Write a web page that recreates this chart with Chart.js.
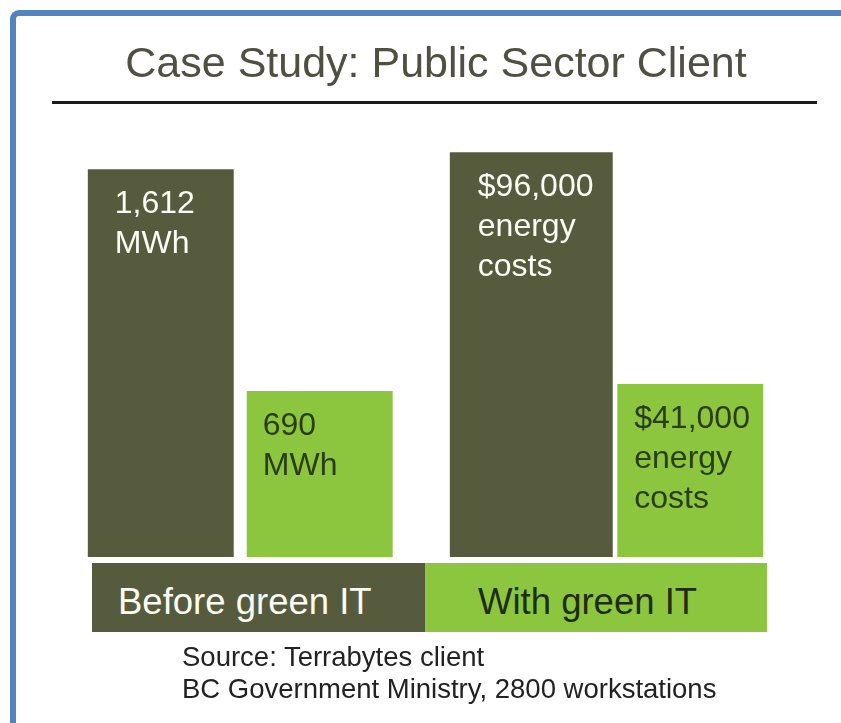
<!DOCTYPE html>
<html>
<head>
<meta charset="utf-8">
<script src="https://cdn.jsdelivr.net/npm/chart.js@4.4.1/dist/chart.umd.min.js"></script>
<style>
    html, body { margin: 0; padding: 0; background: #fff; overflow: hidden; }
    body { width: 841px; height: 723px; position: relative; font-family: 'Liberation Sans', Arial, sans-serif; }
    #frame { position: absolute; left: 10px; top: 10px; width: 900px; height: 800px;
             border-left: 6px solid #5383c0; border-top: 6px solid #5383c0; border-top-left-radius: 9px; }
    #chartBox { position: absolute; left: 0; top: 0; width: 841px; height: 723px; }
    .txt { position: absolute; white-space: nowrap; line-height: 1; }
    #title { left: 0; width: 872px; top: 41px; font-size: 43px; color: #4f4f42; text-align: center; }
    #rule { position: absolute; left: 52px; top: 101px; width: 765px; height: 3px; background: #1c1c1c; }
    .band { position: absolute; top: 563px; height: 69px; }
    #bandBefore { left: 92px; width: 333px; background: #575b3e; }
    #bandWith { left: 425px; width: 342px; background: #8cc63f; }
    .bandLabel { font-size: 36.5px; top: 584px; }
    #labelBefore { left: 118px; color: #fbfbf5; }
    #labelWith { left: 478px; color: #1f2c12; }
    .source { left: 182px; font-size: 27.5px; color: #222; }
</style>
</head>
<body>
<div id="frame"></div>
<div id="chartBox"><canvas id="caseChart" width="841" height="723"></canvas></div>
<div id="title" class="txt"></div>
<div id="rule"></div>
<div id="bandBefore" class="band"></div>
<div id="bandWith" class="band"></div>
<div id="labelBefore" class="txt bandLabel"></div>
<div id="labelWith" class="txt bandLabel"></div>
<div id="source1" class="txt source" style="top:643px"></div>
<div id="source2" class="txt source" style="top:675px"></div>
<script>
// Chart data
const titleText = 'Case Study: Public Sector Client';
const groups = ['Energy use', 'Energy costs'];
const seriesNames = ['Before green IT', 'With green IT'];
const energyMWh = [1612, 690];     // before, with
const energyCost = [96000, 41000]; // before, with (USD)
const sourceLines = ['Source: Terrabytes client', 'BC Government Ministry, 2800 workstations'];

const DARK = '#575b3e';
const GREEN = '#8cc63f';

const fmt = (v) => v.toLocaleString('en-US');

// Text lines written inside each bar
const mwhLabel = (v) => [fmt(v), 'MWh'];
const costLabel = (v) => ['$' + fmt(v), 'energy', 'costs'];

// Plugin that writes the labels inside the top of each bar
const barTextPlugin = {
    id: 'barText',
    afterDatasetsDraw(chart) {
        const ctx = chart.ctx;
        ctx.save();
        ctx.font = '32px "Liberation Sans", Arial, sans-serif';
        ctx.textBaseline = 'alphabetic';
        chart.data.datasets.forEach((ds, i) => {
            const meta = chart.getDatasetMeta(i);
            meta.data.forEach((bar, j) => {
                if (ds.data[j] === null) return;
                const left = bar.x - bar.width / 2 + ds.textInset;
                ctx.fillStyle = ds.textColor;
                ds.textLines.forEach((line, k) => {
                    ctx.fillText(line, left, bar.y + 44 + k * 40);
                });
            });
        });
        ctx.restore();
    }
};

document.addEventListener('DOMContentLoaded', () => {
    document.querySelector('#title').textContent = titleText;
    document.querySelector('#labelBefore').textContent = seriesNames[0];
    document.querySelector('#labelWith').textContent = seriesNames[1];
    document.querySelector('#source1').textContent = sourceLines[0];
    document.querySelector('#source2').textContent = sourceLines[1];

    const ctx = document.querySelector('#caseChart').getContext('2d');

    new Chart(ctx, {
        type: 'bar',
        data: {
            labels: groups,
            datasets: [
                {
                    label: seriesNames[0],
                    data: [energyMWh[0], null],
                    yAxisID: 'y',
                    backgroundColor: DARK,
                    barPercentage: 0.918,
                    textLines: mwhLabel(energyMWh[0]),
                    textColor: '#fbfbf5',
                    textInset: 27
                },
                {
                    label: seriesNames[1],
                    data: [energyMWh[1], null],
                    yAxisID: 'y',
                    backgroundColor: GREEN,
                    barPercentage: 0.918,
                    textLines: mwhLabel(energyMWh[1]),
                    textColor: '#2a3d17',
                    textInset: 16
                },
                {
                    label: seriesNames[0],
                    data: [null, energyCost[0]],
                    yAxisID: 'y2',
                    backgroundColor: DARK,
                    barPercentage: 1.025,
                    textLines: costLabel(energyCost[0]),
                    textColor: '#fbfbf5',
                    textInset: 28
                },
                {
                    label: seriesNames[1],
                    data: [null, energyCost[1]],
                    yAxisID: 'y2',
                    backgroundColor: GREEN,
                    barPercentage: 0.918,
                    textLines: costLabel(energyCost[1]),
                    textColor: '#2a3d17',
                    textInset: 17
                }
            ]
        },
        options: {
            responsive: false,
            animation: false,
            layout: { padding: { left: 55, right: 45, top: 148, bottom: 166 } },
            datasets: { bar: { skipNull: true, categoryPercentage: 0.858 } },
            scales: {
                x: { display: false },
                y: { display: false, min: 0, max: 1700 },
                y2: { display: false, min: 0, max: 97000 }
            },
            plugins: {
                legend: { display: false },
                tooltip: { enabled: false }
            }
        },
        plugins: [barTextPlugin]
    });
});
</script>
</body>
</html>
